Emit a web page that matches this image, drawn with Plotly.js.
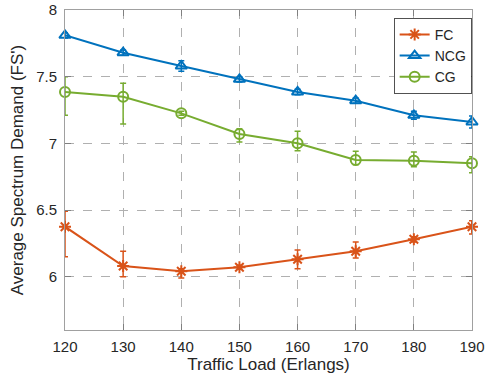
<!DOCTYPE html>
<html>
<head>
<meta charset="utf-8">
<script src="https://cdn.plot.ly/plotly-3.0.1.min.js"></script>
<style>html,body{margin:0;padding:0;background:#fff;}#chart{width:493px;height:381px;}</style>
</head>
<body>
<div id="chart"></div>
<script>
var loads = [120, 130, 140, 150, 160, 170, 180, 190];

var fcMean = [6.375, 6.08, 6.04, 6.07, 6.13, 6.19, 6.28, 6.375];
var fcErrPlus = [0.115, 0.11, 0.02, 0.015, 0.07, 0.07, 0.02, 0.045];
var fcErrMinus = [0.225, 0.08, 0.05, 0.015, 0.07, 0.05, 0.02, 0.055];

var ncgMean = [7.81, 7.68, 7.58, 7.48, 7.385, 7.32, 7.21, 7.16];
var ncgErrPlus = [0.02, 0.02, 0.04, 0.02, 0.02, 0.02, 0.03, 0.045];
var ncgErrMinus = [0.02, 0.02, 0.04, 0.02, 0.02, 0.02, 0.03, 0.045];

var cgMean = [7.385, 7.35, 7.225, 7.07, 7.0, 6.875, 6.87, 6.85];
var cgErrPlus = [0.115, 0.1, 0.015, 0.04, 0.09, 0.065, 0.065, 0.05];
var cgErrMinus = [0.175, 0.205, 0.015, 0.06, 0.055, 0.035, 0.045, 0.07];

var seriesNames = ['FC', 'NCG', 'CG'];
var colors = ['#D95319', '#0072BD', '#77AC30'];
var symbols = ['asterisk-open', 'triangle-up-open', 'circle-open'];
var means = [fcMean, ncgMean, cgMean];
var errsPlus = [fcErrPlus, ncgErrPlus, cgErrPlus];
var errsMinus = [fcErrMinus, ncgErrMinus, cgErrMinus];

var traces = seriesNames.map(function(name, i) {
  return {
    x: loads,
    y: means[i],
    name: name,
    type: 'scatter',
    mode: 'lines+markers',
    cliponaxis: false,
    line: {color: colors[i], width: 2},
    marker: {symbol: symbols[i], size: 10, color: colors[i], line: {color: colors[i], width: 2}},
    error_y: {type: 'data', symmetric: false, array: errsPlus[i], arrayminus: errsMinus[i],
              color: colors[i], thickness: 1.5, width: 3, visible: true}
  };
});

var font = "'Liberation Sans', Helvetica, Arial, sans-serif";
var layout = {
  width: 493, height: 381,
  margin: {l: 65, r: 21, t: 10, b: 51},
  paper_bgcolor: '#fff', plot_bgcolor: '#fff',
  font: {family: font, size: 15, color: '#262626'},
  showlegend: true,
  legend: {x: 0.808, y: 0.975, xanchor: 'left', yanchor: 'top',
           bgcolor: '#fff', bordercolor: '#262626', borderwidth: 0.8,
           font: {family: font, size: 14, color: '#262626'},
           tracegroupgap: 0, itemwidth: 30},
  xaxis: {
    range: [120, 190], tickvals: loads, ticktext: loads.map(String),
    showgrid: true, gridcolor: '#b0b0b0', griddash: 'dash', gridwidth: 1,
    showline: true, linecolor: '#a0a0a0', linewidth: 1, mirror: 'ticks',
    ticks: 'inside', ticklen: 6, tickcolor: '#808080',
    zeroline: false, ticklabelstandoff: 3,
    tickfont: {size: 15, color: '#262626'},
    title: {text: 'Traffic Load (Erlangs)', font: {size: 17, color: '#262626'}, standoff: 4}
  },
  yaxis: {
    range: [5.6, 8], tickvals: [6, 6.5, 7, 7.5, 8], ticktext: ['6', '6.5', '7', '7.5', '8'],
    showgrid: true, gridcolor: '#b0b0b0', griddash: 'dash', gridwidth: 1,
    showline: true, linecolor: '#a0a0a0', linewidth: 1, mirror: 'ticks',
    ticks: 'inside', ticklen: 6, tickcolor: '#808080',
    zeroline: false, ticklabelstandoff: 4,
    tickfont: {size: 15, color: '#262626'},
    title: {text: "Average Spectrum Demand (FS')", font: {size: 17, color: '#262626'}, standoff: 8}
  }
};

Plotly.newPlot('chart', traces, layout, {displayModeBar: false, staticPlot: true});
</script>
</body>
</html>
